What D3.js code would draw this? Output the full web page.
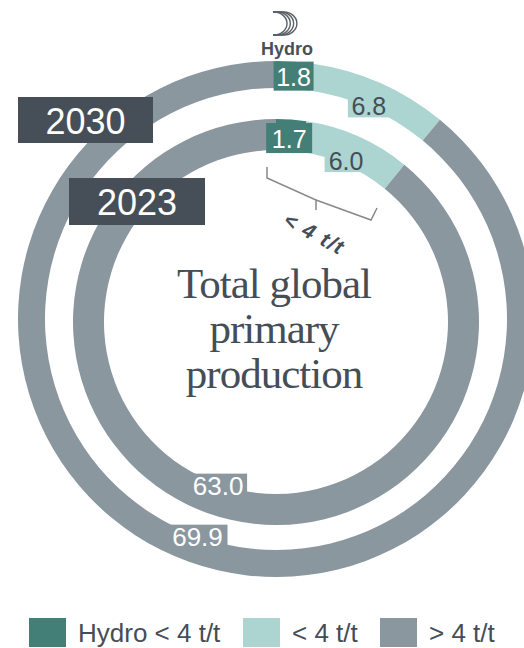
<!DOCTYPE html>
<html><head><meta charset="utf-8">
<script src="https://cdn.jsdelivr.net/npm/d3@7"></script>
<style>html,body{margin:0;padding:0;background:#fff;}svg{display:block;}</style>
</head><body>
<svg id="chart" width="524" height="648"></svg>
<script>
// ---- data ----
const categories = ["Hydro < 4 t/t", "< 4 t/t", "> 4 t/t"];
const years = ["2030", "2023"];
const values2030 = [1.8, 6.8, 69.9];
const values2023 = [1.7, 6.0, 63.0];
const centerTitle = ["Total global", "primary", "production"];
const bracketLabel = "< 4 t/t";

// ---- styles / layout ----
const colors = ["#447f77", "#acd5d1", "#8a979f"];
const labelBg = ["#447f77", "#acd5d1", "#8a979f"];
const labelFg = ["#ffffff", "#454d57", "#ffffff"];
const darkBox = "#464e57";
const textCol = "#454d57";

const svg = d3.select("#chart");
const color = d3.scaleOrdinal().domain(categories).range(colors);
const pie = d3.pie().sort(null).startAngle(0).endAngle(2 * Math.PI);

const rings = [
  {year: years[0], values: values2030, cx: 276, cy: 319, r0: 231, r1: 258,
   offs: [[0, 1], [-6, 10], [4, -13]], fs: [25, 25, 26], box: [[40, 29], [42, 24], [60, 23]],
   yearBox: [18, 97, 135, 46]},
  {year: years[1], values: values2023, cx: 276, cy: 322, r0: 172, r1: 203,
   offs: [[-1, 3], [-6, 9], [5, -14]], fs: [25, 25, 26], box: [[46, 30], [43, 25], [58, 22]],
   yearBox: [69, 178, 136, 47]}
];

rings.forEach(ring => {
  const g = svg.append("g").attr("transform", `translate(${ring.cx},${ring.cy})`);
  const arc = d3.arc().innerRadius(ring.r0).outerRadius(ring.r1);
  const arcs = pie(ring.values);
  g.selectAll("path").data(arcs).join("path")
    .attr("d", arc).attr("fill", (d, i) => color(categories[i]));
});

// labels (drawn after both rings)
rings.forEach(ring => {
  const g = svg.append("g").attr("transform", `translate(${ring.cx},${ring.cy})`);
  const mid = (ring.r0 + ring.r1) / 2;
  const arcMid = d3.arc().innerRadius(mid).outerRadius(mid);
  const arcs = pie(ring.values);
  arcs.forEach((d, i) => {
    const [x, y] = arcMid.centroid(d);
    const px = x + ring.offs[i][0], py = y + ring.offs[i][1];
    const [bw, bh] = ring.box[i];
    g.append("rect").attr("x", px - bw / 2).attr("y", py - bh / 2)
      .attr("width", bw).attr("height", bh).attr("fill", labelBg[i]);
    g.append("text").attr("x", px).attr("y", py + 1)
      .attr("text-anchor", "middle").attr("dominant-baseline", "central")
      .attr("font-family", "Liberation Sans, Arial, sans-serif")
      .attr("font-size", ring.fs[i]).attr("fill", labelFg[i])
      .text(d3.format(".1f")(d.data));
  });
  const [bx, by, bw, bh] = ring.yearBox;
  svg.append("rect").attr("x", bx).attr("y", by).attr("width", bw).attr("height", bh).attr("fill", darkBox);
  svg.append("text").attr("x", bx + bw / 2).attr("y", by + bh / 2 + 1)
    .attr("text-anchor", "middle").attr("dominant-baseline", "central")
    .attr("font-family", "Liberation Sans, Arial, sans-serif").attr("font-size", 36)
    .attr("fill", "#ffffff").text(ring.year);
});

// bracket
svg.append("path")
  .attr("d", "M267,167 L267,178 L316,200 L316,210 M316,200 L371,220 L377,208")
  .attr("fill", "none").attr("stroke", "#888888").attr("stroke-width", 1.5);
svg.append("text")
  .attr("transform", "translate(311,240) rotate(28)")
  .attr("text-anchor", "middle")
  .attr("font-family", "Liberation Sans, Arial, sans-serif")
  .attr("font-weight", "bold").attr("font-style", "italic")
  .attr("font-size", 21).attr("letter-spacing", 1.5)
  .attr("fill", textCol).text(bracketLabel);

// center title
svg.append("g").selectAll("text").data(centerTitle).join("text")
  .attr("x", 274).attr("y", (d, i) => 298 + i * 45)
  .attr("text-anchor", "middle")
  .attr("font-family", "Liberation Serif, Times New Roman, serif")
  .attr("font-size", 43).attr("letter-spacing", -1)
  .attr("fill", textCol).text(d => d);

// Hydro logo
const logo = svg.append("g");
for (let i = 0; i < 4; i++) {
  const x0 = 274 + i * 3.3;
  logo.append("path")
    .attr("d", `M${273},12 L${x0},12 A13,11.5 0 0 1 ${x0},35 L273,35`)
    .attr("fill", "none").attr("stroke", "#5a6068").attr("stroke-width", 1.4);
}
svg.append("text").attr("x", 287).attr("y", 55).attr("text-anchor", "middle")
  .attr("font-family", "Liberation Sans, Arial, sans-serif").attr("font-weight", "bold")
  .attr("font-size", 18).attr("fill", "#4a5058").text("Hydro");

// legend
const legendX = [29, 243, 380];
const lg = svg.append("g");
categories.forEach((c, i) => {
  lg.append("rect").attr("x", legendX[i]).attr("y", 618).attr("width", 37).attr("height", 29)
    .attr("fill", color(c));
  lg.append("text").attr("x", legendX[i] + 49).attr("y", 642)
    .attr("font-family", "Liberation Sans, Arial, sans-serif").attr("font-size", 26)
    .attr("fill", textCol).text(c);
});
</script>
</body></html>
